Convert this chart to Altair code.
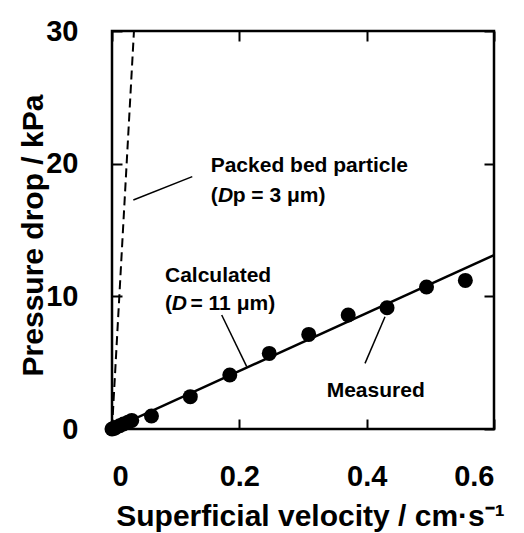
import altair as alt
import pandas as pd

# ---- data ----
vel = [0.0, 0.003, 0.006, 0.012, 0.018, 0.025, 0.031, 0.062, 0.123, 0.185,
       0.247, 0.309, 0.371, 0.432, 0.494, 0.555]
dp = [0.0, 0.05, 0.12, 0.25, 0.38, 0.50, 0.65, 0.98, 2.44, 4.07,
      5.70, 7.13, 8.59, 9.14, 10.7, 11.2]

calc_x = [0.0, 0.6]
calc_y = [0.0, 13.1]
packed_x = [0.0, 0.0345]
packed_y = [0.0, 30.0]

x_ticks = [0, 0.2, 0.4, 0.6]
y_ticks = [0, 10, 20, 30]

ann_text = ["Packed bed particle", "(", "D", "p = 3 μm)",
            "Calculated", "(", "D", "= 11 μm)", "Measured"]
ann_x = [0.155, 0.155, 0.1665, 0.1895, 0.0832, 0.0832, 0.0938, 0.1233, 0.3372]
ann_y = [19.39, 17.13, 17.13, 17.13, 11.10, 8.97, 8.97, 8.97, 2.43]
ann_italic = [False, False, True, False, False, False, True, False, False]

lead_id = ["packed", "packed", "calc", "calc", "meas", "meas"]
lead_x = [0.0335, 0.1261, 0.1723, 0.2116, 0.3974, 0.4288]
lead_y = [17.26, 19.02, 8.59, 4.70, 4.95, 8.46]

FONT = "Liberation Sans"
W, H = 382, 398

df_pts = pd.DataFrame({"v": vel, "p": dp})
df_calc = pd.DataFrame({"v": calc_x, "p": calc_y})
df_packed = pd.DataFrame({"v": packed_x, "p": packed_y})
df_ann = pd.DataFrame({"v": ann_x, "p": ann_y, "t": ann_text, "it": ann_italic})
df_lead = pd.DataFrame({"v": lead_x, "p": lead_y, "id": lead_id})

xs = alt.Scale(domain=[0, 0.6], nice=False, zero=False)
ys = alt.Scale(domain=[0, 30], nice=False, zero=False)

lab = dict(labelFont=FONT, labelFontSize=29, labelFontWeight="bold", labelColor="black",
           titleFont=FONT, titleFontSize=30, titleFontWeight="bold", titleColor="black",
           domain=False, grid=False, ticks=False, tickSize=0)

ax_bottom = alt.Axis(orient="bottom", values=x_ticks, format="~g", labelPadding=33,
                     title="Superficial velocity / cm·s⁻¹", titleBaseline="alphabetic",
                     titleAlign="center", titleX=198, titleY=96, **lab)
ax_left = alt.Axis(orient="left", values=y_ticks, labelPadding=34,
                   title="Pressure drop / kPa", titleBaseline="alphabetic",
                   titleAlign="center", titleAngle=270, titleX=-70, titleY=204, **lab)

tk = dict(labels=False, ticks=True, tickSize=10, tickWidth=2, tickColor="black",
          domain=False, grid=False)
ax_up = alt.Axis(orient="top", offset=-H, values=x_ticks, **tk)
ax_down = alt.Axis(orient="bottom", offset=-H, values=x_ticks, **tk)
ax_rightin = alt.Axis(orient="right", offset=-W, values=y_ticks, **tk)
ax_leftin = alt.Axis(orient="left", offset=-W, values=y_ticks, **tk)

pts = alt.Chart(df_pts).mark_circle(size=225, color="black", opacity=1).encode(
    x=alt.X("v:Q", scale=xs, axis=ax_bottom),
    y=alt.Y("p:Q", scale=ys, axis=ax_left),
)

calc = alt.Chart(df_calc).mark_line(color="black", strokeWidth=2.5, clip=True).encode(
    x=alt.X("v:Q", scale=xs, axis=ax_up, title=None),
    y=alt.Y("p:Q", scale=ys, axis=ax_rightin, title=None),
)

packed = alt.Chart(df_packed).mark_line(color="black", strokeWidth=2, strokeDash=[9, 5],
                                        clip=True).encode(
    x=alt.X("v:Q", scale=xs, axis=ax_down, title=None),
    y=alt.Y("p:Q", scale=ys, axis=ax_leftin, title=None),
)

leaders = alt.Chart(df_lead).mark_line(color="black", strokeWidth=1.5).encode(
    x=alt.X("v:Q", scale=xs, axis=None),
    y=alt.Y("p:Q", scale=ys, axis=None),
    detail="id:N",
)

txt_normal = alt.Chart(df_ann).transform_filter("!datum.it").mark_text(
    font=FONT, fontSize=21, fontWeight="bold", color="black", align="left",
    baseline="alphabetic").encode(
    x=alt.X("v:Q", scale=xs, axis=None),
    y=alt.Y("p:Q", scale=ys, axis=None),
    text="t:N",
)
txt_italic = alt.Chart(df_ann).transform_filter("datum.it").mark_text(
    font=FONT, fontSize=21, fontWeight="bold", fontStyle="italic", color="black",
    align="left", baseline="alphabetic").encode(
    x=alt.X("v:Q", scale=xs, axis=None),
    y=alt.Y("p:Q", scale=ys, axis=None),
    text="t:N",
)

chart = alt.layer(packed, calc, leaders, pts, txt_normal, txt_italic).resolve_axis(
    x="independent", y="independent"
).properties(
    width=W, height=H,
    autosize=alt.AutoSizeParams(type="none"),
    padding={"left": 112, "top": 31, "right": 30, "bottom": 104},
    background="white",
).configure_view(stroke="black", strokeWidth=2.5)

chart.save("out.html", embed_options={"renderer": "svg", "actions": False})
